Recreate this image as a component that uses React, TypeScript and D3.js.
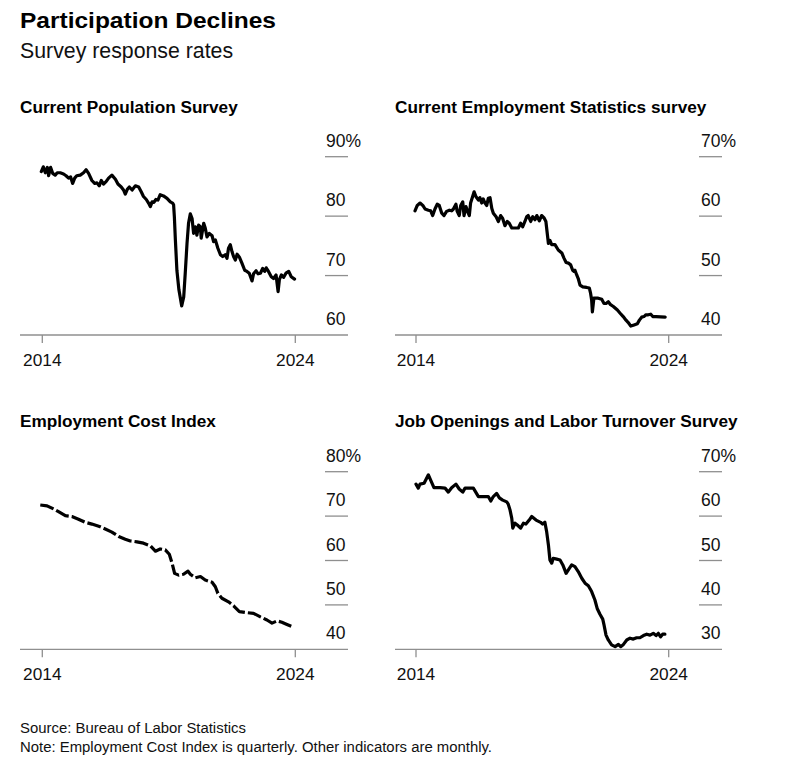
import React from 'react';
import * as d3 from 'd3';

// ---------- DATA ----------
const xTicks = [2014, 2024];

const cpsDates = [
  2013.96, 2014.04, 2014.12, 2014.2, 2014.25, 2014.33, 2014.41, 2014.51, 2014.59, 2014.71,
  2014.84, 2014.94, 2015.04, 2015.12, 2015.2, 2015.28, 2015.36, 2015.5, 2015.63, 2015.73,
  2015.83, 2015.96, 2016.07, 2016.16, 2016.25, 2016.33, 2016.42, 2016.52, 2016.62, 2016.75,
  2016.89, 2016.99, 2017.12, 2017.21, 2017.28, 2017.36, 2017.44, 2017.55, 2017.68, 2017.81,
  2017.91, 2018.0, 2018.11, 2018.2, 2018.27, 2018.34, 2018.41, 2018.49, 2018.57, 2018.66,
  2018.79, 2018.93, 2019.06, 2019.15, 2019.19, 2019.22, 2019.26, 2019.32, 2019.4, 2019.51,
  2019.59, 2019.65, 2019.72, 2019.78, 2019.85, 2019.92, 2019.98, 2020.05, 2020.11, 2020.18,
  2020.25, 2020.28, 2020.38, 2020.44, 2020.51, 2020.6, 2020.71, 2020.77, 2020.84, 2020.94,
  2021.04, 2021.13, 2021.23, 2021.3, 2021.36, 2021.43, 2021.5, 2021.56, 2021.63, 2021.7,
  2021.79, 2021.89, 2022.0, 2022.09, 2022.18, 2022.29, 2022.35, 2022.45, 2022.53, 2022.62,
  2022.71, 2022.79, 2022.85, 2022.94, 2023.05, 2023.14, 2023.24, 2023.32, 2023.37, 2023.45,
  2023.54, 2023.63, 2023.74, 2023.84, 2023.97,
];
const cpsValues = [
  87.5, 88.3, 87.3, 88.2, 86.8, 88.2, 87.2, 86.9, 87.3, 87.3,
  87.1, 86.8, 86.4, 86.6, 85.5, 86.4, 86.8, 86.9, 87.3, 87.8,
  87.2, 86.0, 85.5, 85.6, 85.1, 86.0, 85.4, 85.8, 86.4, 86.9,
  86.2, 85.4, 84.9, 84.4, 83.7, 84.5, 84.9, 84.4, 85.1, 84.9,
  84.1, 83.3, 82.8, 82.2, 81.6, 82.4, 82.3, 82.8, 82.7, 83.6,
  83.4, 83.0, 82.4, 82.2, 81.9, 79.9, 76.0, 70.9, 67.6, 64.9,
  66.4, 70.4, 75.4, 78.8, 80.4, 79.6, 77.1, 78.2, 76.8, 78.5,
  78.2, 76.3, 78.8, 78.0, 76.5, 77.1, 76.7, 75.7, 76.0, 74.6,
  73.5, 73.2, 73.5, 72.9, 74.6, 75.2, 74.0, 73.2, 72.6, 73.6,
  73.1, 72.1, 70.9, 70.7, 70.4, 69.1, 70.3, 70.8, 70.3, 70.4,
  71.2, 70.7, 71.3, 70.7, 69.8, 69.5, 70.1, 67.3, 69.3, 70.1,
  69.7, 70.4, 70.7, 69.8, 69.4,
];
const cpsTicks = [60, 70, 80, 90];

const cesDates = [
  2013.96, 2014.05, 2014.16, 2014.27, 2014.36, 2014.49, 2014.58, 2014.66, 2014.75, 2014.84,
  2014.92, 2015.02, 2015.11, 2015.21, 2015.32, 2015.41, 2015.48, 2015.58, 2015.63, 2015.71,
  2015.77, 2015.85, 2015.9, 2015.98, 2016.03, 2016.11, 2016.16, 2016.22, 2016.3, 2016.37,
  2016.47, 2016.53, 2016.6, 2016.66, 2016.73, 2016.8, 2016.86, 2016.93, 2017.0, 2017.06,
  2017.17, 2017.26, 2017.35, 2017.43, 2017.52, 2017.61, 2017.69, 2017.79, 2017.92, 2018.05,
  2018.14, 2018.22, 2018.31, 2018.38, 2018.44, 2018.54, 2018.62, 2018.71, 2018.78, 2018.88,
  2018.97, 2019.07, 2019.14, 2019.24, 2019.3, 2019.37, 2019.5, 2019.63, 2019.77, 2019.86,
  2019.94, 2020.03, 2020.12, 2020.2, 2020.25, 2020.29, 2020.36, 2020.42, 2020.49, 2020.6,
  2020.75, 2020.86, 2020.91, 2020.95, 2020.98, 2021.04, 2021.21, 2021.35, 2021.44, 2021.52,
  2021.61, 2021.7, 2021.81, 2021.97, 2022.07, 2022.2, 2022.31, 2022.4, 2022.5, 2022.63,
  2022.76, 2022.84, 2022.93, 2023.02, 2023.1, 2023.19, 2023.29, 2023.37, 2023.5, 2023.86,
];
const cesValues = [
  60.9, 61.8, 62.2, 61.8, 61.2, 61.0, 60.9, 60.1, 61.2, 62.0,
  61.8, 60.5, 60.1, 60.8, 61.0, 60.9, 61.2, 62.0, 60.8, 60.1,
  61.8, 62.4, 60.1, 61.6, 60.9, 60.1, 62.2, 63.0, 64.1, 63.3,
  62.7, 63.1, 62.2, 62.9, 62.2, 61.8, 63.0, 63.1, 61.3, 60.5,
  59.9, 59.1, 60.1, 59.6, 58.4, 59.1, 58.8, 58.0, 58.0, 58.0,
  58.8, 58.2, 59.1, 59.9, 60.1, 59.1, 59.9, 59.4, 60.1, 59.2,
  60.1, 59.7, 59.1, 55.4, 55.9, 55.2, 55.2, 54.3, 53.8, 52.9,
  52.2, 52.1, 51.8, 50.9, 50.7, 50.9, 50.1, 49.5, 48.4, 48.1,
  48.0, 47.9, 47.0, 45.9, 43.9, 46.2, 46.2, 46.0, 45.3, 45.3,
  45.6, 45.1, 44.8, 44.2, 43.7, 43.1, 42.5, 42.1, 41.5, 41.7,
  41.9, 42.5, 43.0, 43.1, 43.4, 43.4, 43.5, 43.1, 43.1, 43.0,
];
const cesTicks = [40, 50, 60, 70];

const eciDates = [
  2013.92, 2014.19, 2014.45, 2014.64, 2014.91, 2015.17, 2015.43, 2015.7, 2015.96, 2016.29,
  2016.49, 2016.75, 2017.02, 2017.28, 2017.48, 2017.74, 2018.0, 2018.27, 2018.47, 2018.66,
  2018.86, 2019.02, 2019.13, 2019.23, 2019.39, 2019.58, 2019.76, 2019.85, 2020.05, 2020.25,
  2020.44, 2020.71, 2020.84, 2020.94, 2021.1, 2021.36, 2021.56, 2021.79, 2022.02, 2022.35,
  2022.62, 2022.88, 2023.08, 2023.28, 2023.47, 2023.67, 2023.84,
];
const eciValues = [
  72.5, 72.3, 71.6, 71.0, 70.1, 69.9, 69.3, 68.6, 68.2, 67.6,
  67.1, 66.4, 65.4, 64.8, 64.4, 64.2, 63.9, 63.3, 62.1, 62.6,
  62.4, 61.4, 59.4, 57.1, 56.7, 56.9, 57.6, 56.9, 56.1, 56.4,
  55.6, 55.1, 54.1, 52.6, 51.5, 50.7, 49.8, 48.5, 48.3, 48.1,
  47.3, 46.6, 45.9, 46.4, 46.1, 45.6, 45.2,
];
const eciTicks = [40, 50, 60, 70, 80];

const joltsDates = [
  2014.0, 2014.09, 2014.16, 2014.32, 2014.49, 2014.58, 2014.71, 2014.95, 2015.15, 2015.28,
  2015.41, 2015.58, 2015.71, 2015.85, 2015.94, 2016.07, 2016.27, 2016.47, 2016.66, 2016.86,
  2016.96, 2017.06, 2017.19, 2017.3, 2017.43, 2017.59, 2017.65, 2017.72, 2017.79, 2017.83,
  2017.92, 2018.01, 2018.14, 2018.25, 2018.35, 2018.48, 2018.58, 2018.75, 2018.93, 2019.01,
  2019.1, 2019.17, 2019.24, 2019.3, 2019.37, 2019.43, 2019.57, 2019.7, 2019.81, 2019.94,
  2020.03, 2020.16, 2020.29, 2020.42, 2020.56, 2020.69, 2020.82, 2020.95, 2021.08, 2021.17,
  2021.28, 2021.39, 2021.44, 2021.52, 2021.61, 2021.74, 2021.88, 2022.01, 2022.1, 2022.21,
  2022.34, 2022.47, 2022.6, 2022.73, 2022.86, 2023.0, 2023.13, 2023.26, 2023.39, 2023.5,
  2023.59, 2023.68, 2023.76, 2023.85,
];
const joltsValues = [
  67.2, 66.3, 67.2, 67.4, 69.3, 68.1, 66.4, 66.4, 66.3, 65.4,
  66.4, 67.2, 66.1, 65.4, 66.3, 66.3, 66.3, 64.4, 64.4, 64.4,
  63.4, 64.4, 65.1, 64.1, 63.6, 63.2, 62.7, 61.4, 59.5, 57.3,
  58.4, 58.0, 57.3, 58.4, 58.2, 59.1, 59.9, 59.1, 58.6, 58.2,
  58.6, 56.5, 53.5, 50.1, 49.4, 50.5, 50.3, 50.1, 49.0, 47.1,
  47.9, 49.0, 48.6, 47.5, 46.0, 44.9, 44.3, 43.0, 41.1, 39.2,
  37.9, 36.8, 35.5, 33.2, 32.1, 31.0, 30.6, 31.1, 30.6, 31.1,
  32.1, 32.5, 32.3, 32.6, 32.6, 33.1, 33.4, 33.2, 33.6, 33.1,
  33.6, 32.8, 33.4, 33.4,
];
const joltsTicks = [30, 40, 50, 60, 70];

const panelTitles = [
  'Current Population Survey',
  'Current Employment Statistics survey',
  'Employment Cost Index',
  'Job Openings and Labor Turnover Survey',
];

// ---------- LAYOUT ----------
const W = 795;
const H = 783;
const FONT = '"Liberation Sans", Arial, Helvetica, sans-serif';
const GRID = '#8f8f8f';

const COLS = [
  { axis0: 20, axis1: 348, x0: 42.3, x1: 295.3, grid0: 325, label: 326, title: 20 },
  { axis0: 395, axis1: 722, x0: 416, x1: 668.7, grid0: 699, label: 701, title: 395 },
];
const ROWS = [
  { top: 156.7, bottom: 335, titleY: 113, tickY: 366 },
  { top: 471.7, bottom: 649.3, titleY: 427, tickY: 680 },
];

type PanelProps = {
  title: string;
  dates: number[];
  values: number[];
  ticks: number[];
  col: number;
  row: number;
  dashed?: boolean;
};

function Panel({ title, dates, values, ticks, col, row, dashed }: PanelProps) {
  const C = COLS[col];
  const R = ROWS[row];
  const x = d3.scaleLinear().domain([xTicks[0], xTicks[xTicks.length - 1]]).range([C.x0, C.x1]);
  const y = d3
    .scaleLinear()
    .domain([ticks[0], ticks[ticks.length - 1]])
    .range([R.bottom, R.top]);
  const pts: [number, number][] = dates.map((d, i) => [d, values[i]]);
  const line = d3
    .line<[number, number]>()
    .x((d) => x(d[0]))
    .y((d) => y(d[1]));
  const maxTick = ticks[ticks.length - 1];
  return (
    <g>
      <text x={C.title} y={R.titleY} fontFamily={FONT} fontWeight={700} fontSize={17.2} fill="#000">
        {title}
      </text>
      {ticks.slice(1).map((t) => (
        <line key={'g' + t} x1={C.grid0} x2={C.axis1} y1={y(t)} y2={y(t)} stroke={GRID} strokeWidth={1.3} />
      ))}
      {ticks.map((t) => (
        <text key={'l' + t} x={C.label} y={y(t) - 10} fontFamily={FONT} fontSize={17.5} fill="#111">
          {t === maxTick ? `${t}%` : `${t}`}
        </text>
      ))}
      <line x1={C.axis0} x2={C.axis1} y1={R.bottom} y2={R.bottom} stroke={GRID} strokeWidth={1.3} />
      {xTicks.map((t) => (
        <g key={'x' + t}>
          <line x1={x(t)} x2={x(t)} y1={R.bottom} y2={R.bottom + 8} stroke={GRID} strokeWidth={1.3} />
          <text x={x(t)} y={R.tickY} textAnchor="middle" fontFamily={FONT} fontSize={17.3} fill="#111">
            {t}
          </text>
        </g>
      ))}
      <path
        d={line(pts) || ''}
        fill="none"
        stroke="#000"
        strokeWidth={3.2}
        strokeLinejoin="round"
        strokeLinecap={dashed ? 'butt' : 'round'}
        strokeDasharray={dashed ? '14 3' : undefined}
      />
    </g>
  );
}

export default function App() {
  return (
    <div style={{ position: 'absolute', left: 0, top: 0 }}>
      <svg width={W} height={H} style={{ display: 'block', background: '#fff' }}>
        <text x={20} y={28} fontFamily={FONT} fontWeight={700} fontSize={22.5} textLength={256} lengthAdjust="spacingAndGlyphs" fill="#000">
          Participation Declines
        </text>
        <text x={20} y={58} fontFamily={FONT} fontSize={21.3} fill="#111">
          Survey response rates
        </text>
        <Panel title={panelTitles[0]} dates={cpsDates} values={cpsValues} ticks={cpsTicks} col={0} row={0} />
        <Panel title={panelTitles[1]} dates={cesDates} values={cesValues} ticks={cesTicks} col={1} row={0} />
        <Panel title={panelTitles[2]} dates={eciDates} values={eciValues} ticks={eciTicks} col={0} row={1} dashed />
        <Panel title={panelTitles[3]} dates={joltsDates} values={joltsValues} ticks={joltsTicks} col={1} row={1} />
        <text x={20} y={733} fontFamily={FONT} fontSize={14.9} fill="#111">
          Source: Bureau of Labor Statistics
        </text>
        <text x={20} y={751.5} fontFamily={FONT} fontSize={14.9} fill="#111">
          Note: Employment Cost Index is quarterly. Other indicators are monthly.
        </text>
      </svg>
    </div>
  );
}
